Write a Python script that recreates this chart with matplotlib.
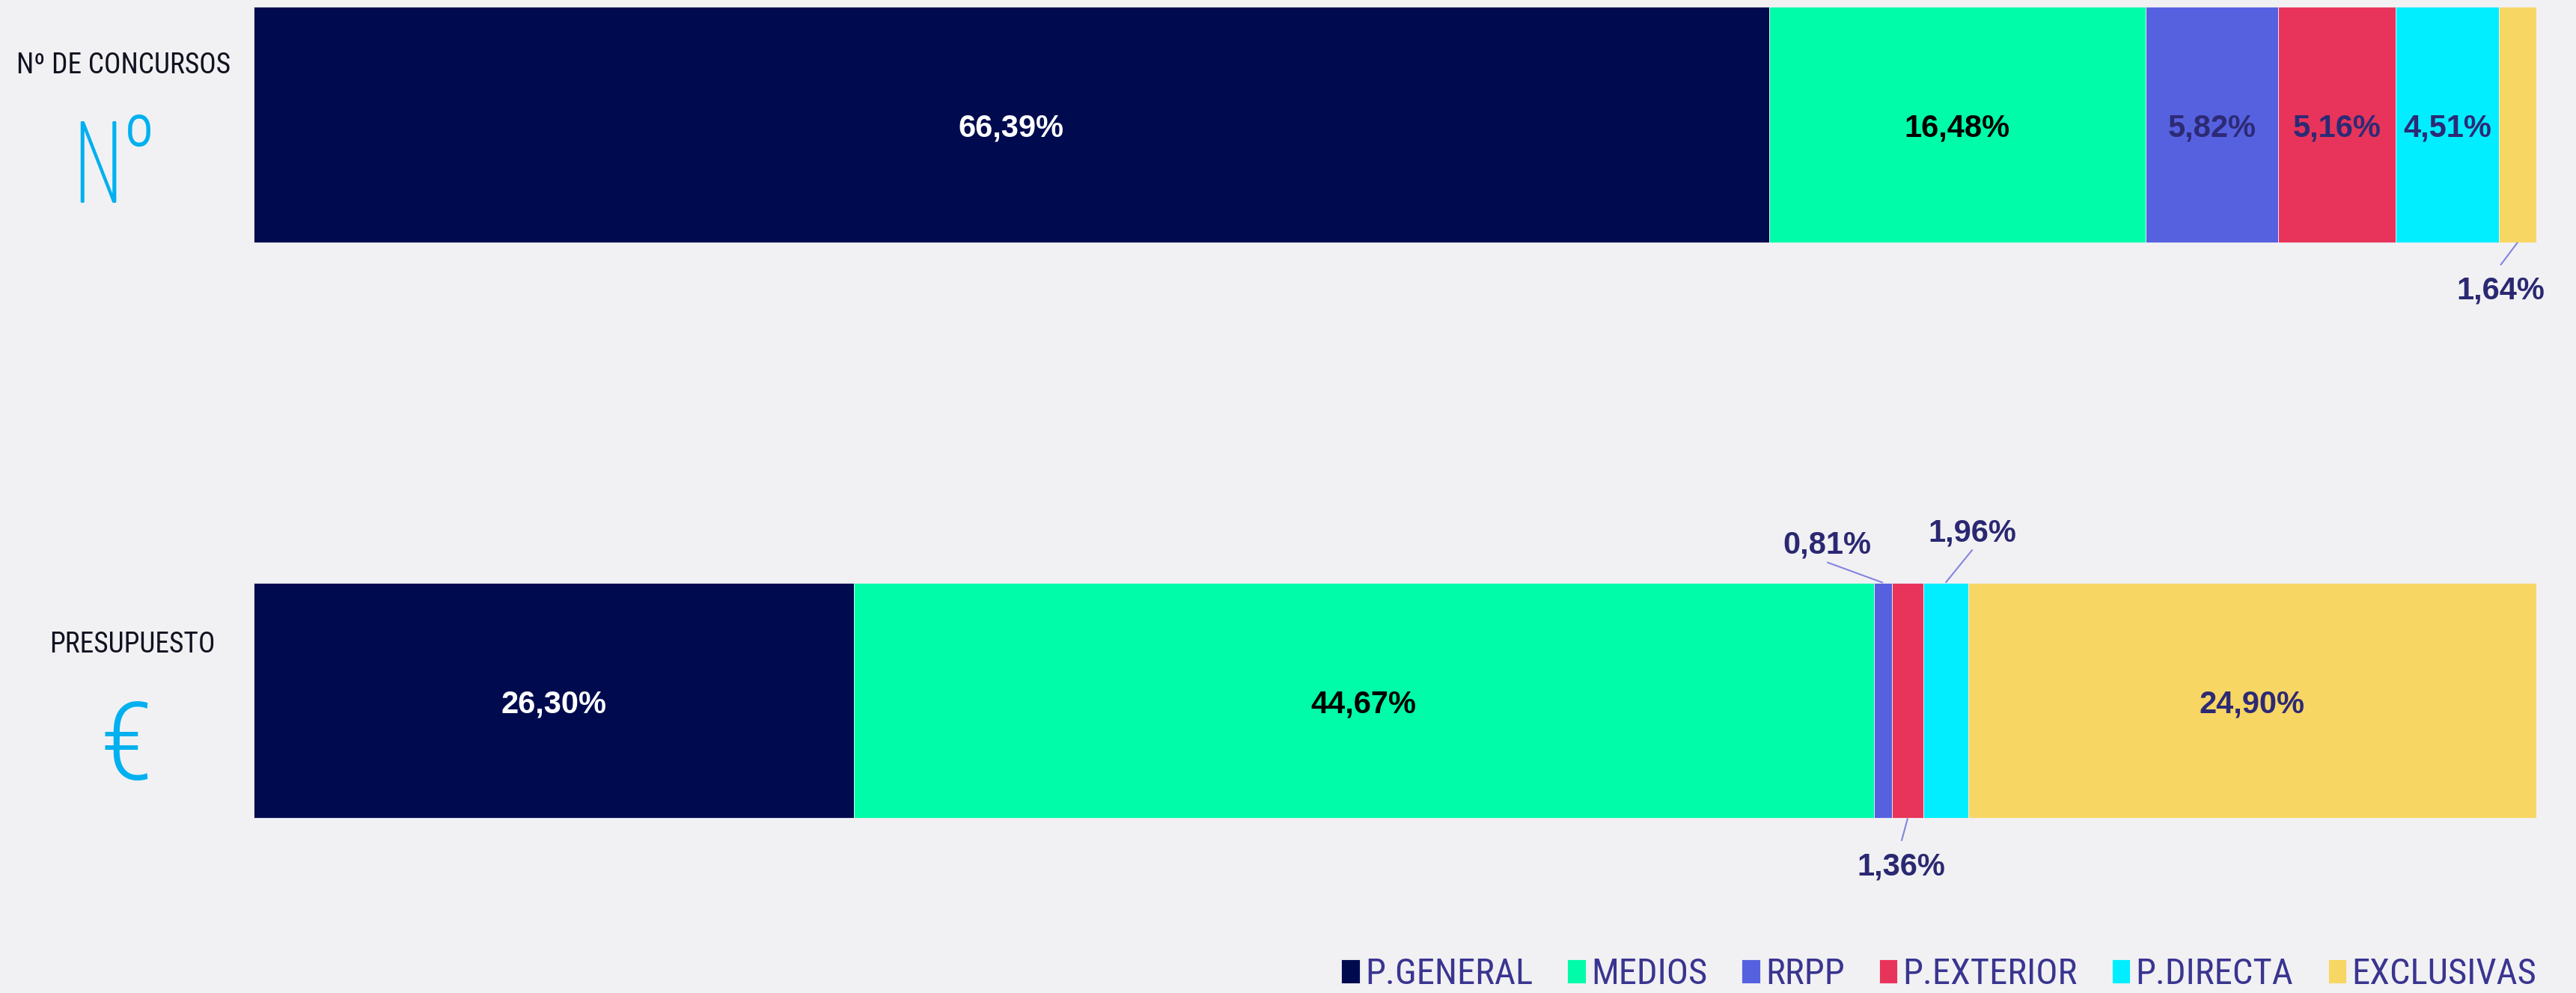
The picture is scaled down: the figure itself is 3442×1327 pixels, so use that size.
import numpy as np
import matplotlib
matplotlib.use("Agg")
from matplotlib import pyplot as plt
from matplotlib import font_manager

# Data
categories = ["P.GENERAL", "MEDIOS", "RRPP", "P.EXTERIOR", "P.DIRECTA", "EXCLUSIVAS"]
rows = ["Nº DE CONCURSOS", "PRESUPUESTO"]
concursos = [66.39, 16.48, 5.82, 5.16, 4.51, 1.64]
presupuesto = [26.30, 44.67, 0.81, 1.36, 1.96, 24.90]

colors = ["#000B4F", "#00FCA8", "#5661E0", "#E8345A", "#00EEFF", "#F8D664"]
label_colors = ["white", "black", "#2D2A75", "#2D2A75", "#2D2A75", "#2D2A75"]
bg = "#F1F1F4"

# small segments get their label outside the bar: (dx in %, label y, line end y)
outside = {
    (0, 5): (-0.75, 0.281, 0.244),
    (1, 2): (-2.45, -0.277, -0.24),
    (1, 3): (-0.27, 0.282, 0.244),
    (1, 4): (1.18, -0.298, -0.262),
}

names = {f.name for f in font_manager.fontManager.ttflist}
cond = [f for f in ["Roboto Condensed", "Roboto"] if f in names] + ["DejaVu Sans"]
narrow = [f for f in ["Barlow Condensed", "Roboto Condensed"] if f in names] + ["DejaVu Sans"]

W, H = 3442, 1327
fig = plt.figure(figsize=(W / 100, H / 100), dpi=100, facecolor=bg)
ax = fig.add_axes([339 / W, 0, 3050 / W, 1])
ax.set_facecolor(bg)

data = np.array([concursos, presupuesto])
bar_h = 0.409
dy = 0.007  # nudge labels down a touch
lefts = np.zeros(len(rows))
for j, cat in enumerate(categories):
    vals = data[:, j]
    ax.barh(np.arange(len(rows)), vals, left=lefts, height=bar_h,
            color=colors[j], edgecolor=bg, linewidth=0.6, label=cat)
    for i, v in enumerate(vals):
        cx = lefts[i] + v / 2
        txt = f"{v:.2f}%".replace(".", ",")
        if (i, j) in outside:
            dx, ty, ly = outside[(i, j)]
            edge = i + (bar_h / 2 if ty > 0 else -bar_h / 2)
            ax.plot([cx, cx + dx], [edge, i + ly], color="#8484E0", lw=1.5,
                    solid_capstyle="butt")
            ax.text(cx + dx, i + ty + dy, txt, ha="center", va="center",
                    fontsize=30, fontweight="bold", color="#2B2872",
                    family="Liberation Sans")
        else:
            ax.text(cx, i + dy, txt, ha="center", va="center", fontsize=30,
                    fontweight="bold", color=label_colors[j],
                    family="Liberation Sans")
    lefts += vals

ax.set_xlim(0, 100)
ax.set_ylim(1.508, -0.2164)
ax.axis("off")

# row captions on the left
fig.text(165 / W, 1 - 87 / H, rows[0], ha="center", va="center",
         fontsize=27, color="#11121F", family=cond)
fig.text(177 / W, 1 - 862 / H, rows[1], ha="center", va="center",
         fontsize=27, color="#11121F", family=cond)
# big "Nº": narrow N plus a plain ordinal sign
fig.text(131 / W, 1 - 271 / H, "N", ha="center", va="baseline",
         fontsize=112, color="#00B0EF", family=narrow, fontweight="light")
fig.text(186 / W, 1 - 150 / H, "º", ha="center", va="top",
         fontsize=80, color="#00B0EF", family=cond, fontweight="light")
fig.text(169 / W, 1 - 1002 / H, "€", ha="center", va="center",
         fontsize=104, color="#00B0EF", family=cond, fontweight="light")

leg = fig.legend(loc="center right", bbox_to_anchor=(3389 / W, 1 - 1302 / H),
                 ncol=len(categories), frameon=False, borderpad=0,
                 borderaxespad=0, handlelength=0.5, handleheight=0.62,
                 handletextpad=0.15, columnspacing=0.95,
                 prop=dict(family=cond, size=35))
for t in leg.get_texts():
    t.set_color("#3A3590")

fig.savefig("out.png", dpi=100, facecolor=bg)
